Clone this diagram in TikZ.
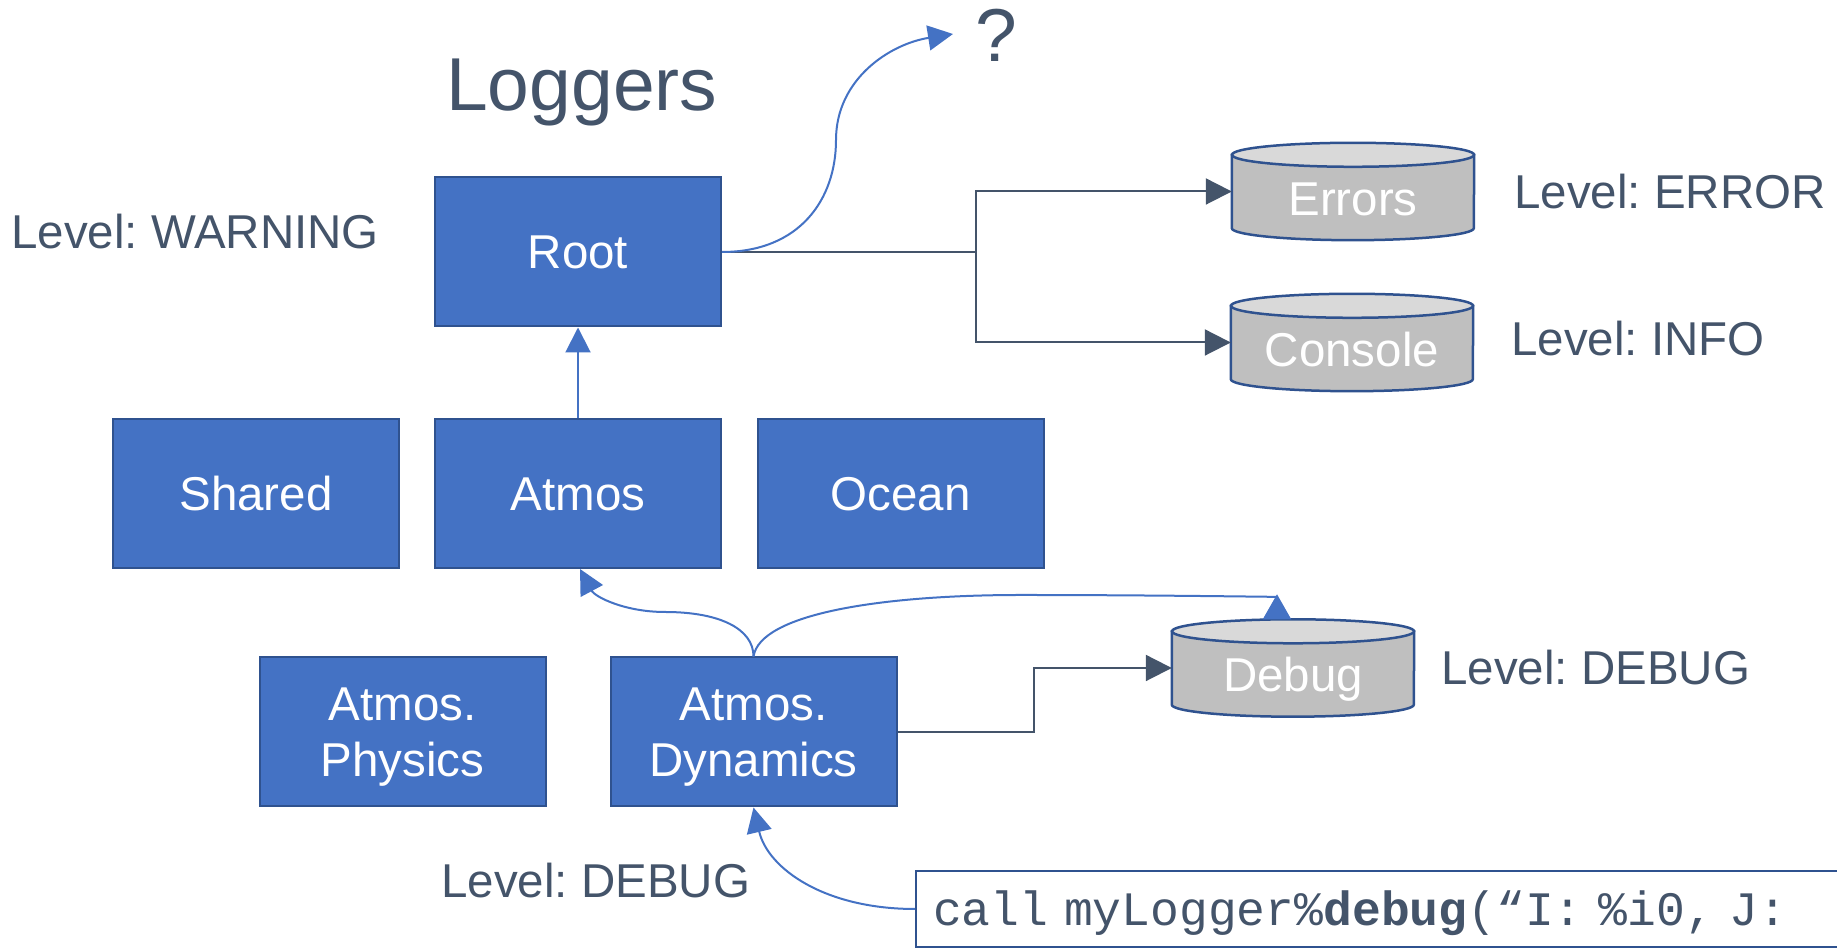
\documentclass[tikz,border=0pt]{standalone}
\usepackage{fontspec}
\setmainfont{Liberation Sans}
\setmonofont{Liberation Mono}
\usetikzlibrary{arrows.meta}
\frenchspacing
\definecolor{boxblue}{HTML}{4472C4}
\definecolor{boxedge}{HTML}{2F528F}
\definecolor{slate}{HTML}{44546A}
\definecolor{cylbody}{HTML}{BFBFBF}
\definecolor{cyltop}{HTML}{D9D9D9}
\pgfdeclarelayer{background}
\pgfsetlayers{background,main}
\newcommand\drawcyl[1]{%
 \begin{pgfonlayer}{background}
 \filldraw[fill=cylbody,draw=boxedge,line width=2.5pt] ([yshift=-12pt]#1.north west) -- ([yshift=12pt]#1.south west) arc[start angle=180,end angle=360,x radius=121pt,y radius=12pt] -- ([yshift=-12pt]#1.north east) -- cycle;
 \filldraw[fill=cyltop,draw=boxedge,line width=2.5pt] ([yshift=-12pt]#1.north) ellipse[x radius=121pt,y radius=12pt];
 \end{pgfonlayer}}
\begin{document}
\begin{tikzpicture}[x=1pt,y=1pt,
  lgbox/.style={rectangle,fill=boxblue,draw=boxedge,line width=2pt,text=white,
    minimum width=286pt,minimum height=149pt,inner sep=0pt,align=center,
    font=\fontsize{47.5}{56}\selectfont\frenchspacing,text height=34pt,text depth=0pt},
  twoline/.style={text height=90pt,text depth=0pt},
  cylnode/.style={rectangle,minimum width=242pt,minimum height=97pt,inner sep=0pt,
    text=white,font=\fontsize{47.5}{56}\selectfont,text height=48pt,text depth=0pt},
  lbl/.style={text=slate,font=\fontsize{47.5}{56}\selectfont\frenchspacing,anchor=base west,inner sep=0pt},
  big/.style={font=\fontsize{75}{80}\selectfont},
  codebox/.style={anchor=west,draw=boxedge,line width=2pt,fill=white,minimum height=76pt,
    inner xsep=17pt,inner ysep=0pt,text height=34pt,text depth=0pt,text=slate,
    text width=980pt,align=left,font=\ttfamily\fontsize{48}{56}\selectfont\frenchspacing},
  barr/.style={draw=boxblue,line width=2pt,-{Triangle[length=25pt,width=25pt]}},
  darr/.style={draw=slate,line width=2pt,-{Triangle[length=26pt,width=26pt]}}]
\useasboundingbox (0,0) rectangle (1837,949);
% logger boxes
\node[lgbox] (root) at (578,697) {Root};
\node[lgbox] (shared) at (256,455.5) {Shared};
\node[lgbox] (atmos) at (578,455.5) {Atmos};
\node[lgbox] (ocean) at (900.5,455.5) {Ocean};
\node[lgbox,twoline] (phys) at (402.5,217) {Atmos.\\Physics};
\node[lgbox,twoline] (dyn) at (753.5,217) {Atmos.\\Dynamics};
% handlers
\node[cylnode] (errors) at (1353,757.5) {Errors};
\node[cylnode] (console) at (1352,606.5) {Console};
\node[cylnode] (debug) at (1293,281) {Debug};
\drawcyl{errors}
\drawcyl{console}
\drawcyl{debug}
% labels
\node[lbl,big] (title) at (446,838) {Loggers};
\node[lbl,big] (q) at (975,887) {?};
\node[lbl] (lwarn) at (11,700) {Level: WARNING};
\node[lbl] (lerr) at (1514,740) {Level: ERROR};
\node[lbl] (linfo) at (1511,593) {Level: INFO};
\node[lbl] (ldbgr) at (1441,264) {Level: DEBUG};
\node[lbl] (ldbgb) at (441,51) {Level: DEBUG};
% code line
\node[codebox] (code) at (915,40) {call myLogger\%\textbf{debug}(“I: \%i0, J:};
% connectors
\coordinate (split) at (976,697);
\draw[darr] (root.east) -- (split) |- (errors.west);
\draw[darr] (split) |- (console.west);
\coordinate (dbend) at (1034,217);
\draw[darr] (dyn.east) -- (dbend) |- (debug.west);
\draw[barr] (atmos.north) -- (root.south);
\coordinate (qend) at (953,915);
\draw[barr] (root.east) .. controls (800,697) and (836,750) .. (836,809)
   .. controls (836,870) and (890,905) .. (qend);
\draw[barr] (dyn.north) .. controls (753.5,320) and (720,337) .. (665,337)
   .. controls (625,337) and (595,352) .. ([xshift=2pt]atmos.south);
\draw[draw=boxblue,line width=2pt,-{Triangle[reversed,length=25pt,width=28pt]}]
   (dyn.north) .. controls (760,335) and (880,354) .. (1021,354)
   .. controls (1150,354) and (1277,352) .. ([xshift=-16pt]debug.north);
\draw[barr] (code.west) .. controls (825,40) and (768,80) .. (dyn.south);
\end{tikzpicture}
\end{document}
